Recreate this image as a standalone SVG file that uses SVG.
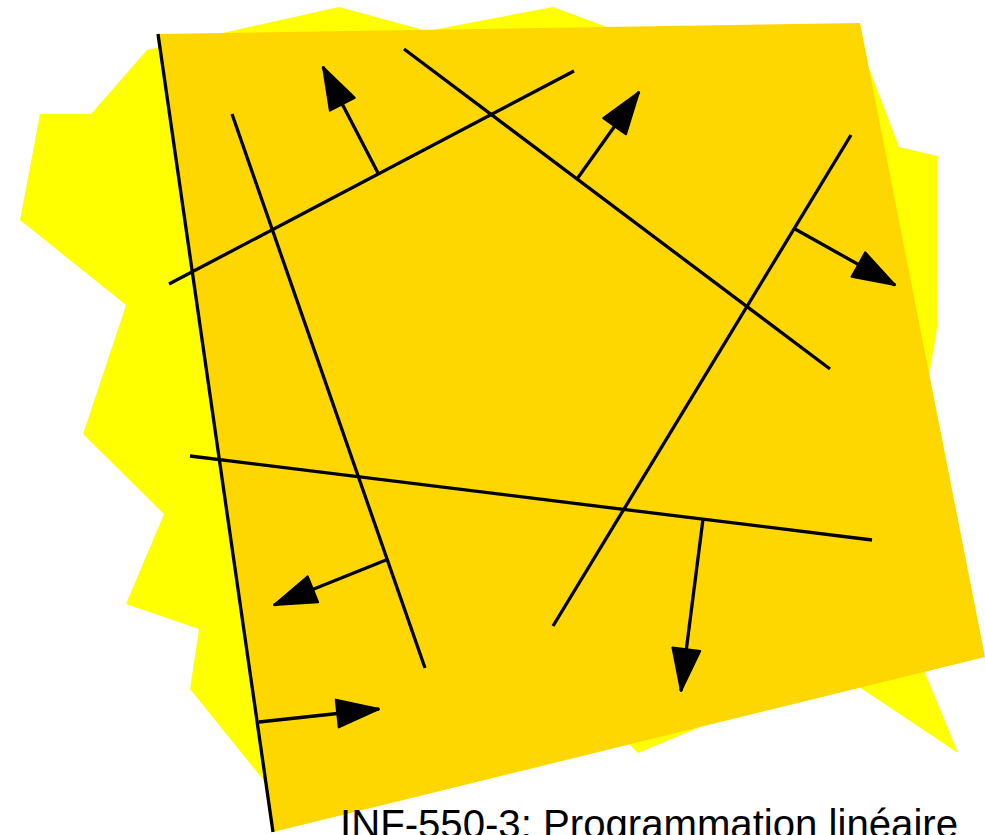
<svg xmlns="http://www.w3.org/2000/svg" width="985" height="835" viewBox="0 0 985 835">
  <style>
    .ln { stroke: #000; stroke-width: 3.3; fill: none; }
    .ar { stroke: #000; stroke-width: 3.3; fill: none; marker-end: url(#head); }
    .title { font-family: "Liberation Sans", Arial, sans-serif; font-size: 40px; fill: #000; }
  </style>
  <defs>
    <marker id="head" markerUnits="userSpaceOnUse" viewBox="-2 -2 46 32" refX="42" refY="14" markerWidth="46" markerHeight="32" orient="auto">
      <path d="M0,0 L42,14 L0,28 z" fill="#000" stroke="#000" stroke-width="2" stroke-linejoin="round"/>
    </marker>
  </defs>
  <rect width="985" height="835" fill="#fff"/>
  <g id="yellow-region">
    <polygon fill="#FFFF00" points="40,114 91,114 147,50 339,7 427,31 553,7 607,27 870,71 899,147 937,156 937,328 892,593 958,753 780,634 750,706 638,753 560,675 300,760 265,782 190,689 199,629 126,604 164,514 83,434 126,305 20,220"/>
  </g>
  <g id="gold-region">
    <polygon fill="#FFD700" points="158,34 860,23 985,657 273,832"/>
  </g>
  <g id="connectors">
    <line class="ln" x1="158" y1="34" x2="273" y2="832"/>
    <line class="ln" x1="232" y1="114" x2="425" y2="668"/>
    <line class="ln" x1="169" y1="284" x2="574" y2="71"/>
    <line class="ln" x1="404" y1="49" x2="830" y2="369"/>
    <line class="ln" x1="851" y1="135" x2="553" y2="626"/>
    <line class="ln" x1="190" y1="456" x2="872" y2="540"/>
    <line class="ar" x1="378" y1="173" x2="323" y2="67"/>
    <line class="ar" x1="577" y1="179" x2="639" y2="92"/>
    <line class="ar" x1="795" y1="229" x2="895" y2="285"/>
    <line class="ar" x1="703" y1="519" x2="681" y2="691"/>
    <line class="ar" x1="386" y1="560" x2="274" y2="605"/>
    <line class="ar" x1="259" y1="722" x2="379" y2="709"/>
  </g>
  <g id="caption">
    <text class="title" x="340" y="838" textLength="618" lengthAdjust="spacingAndGlyphs">INF-550-3: Programmation linéaire</text>
  </g>
</svg>
